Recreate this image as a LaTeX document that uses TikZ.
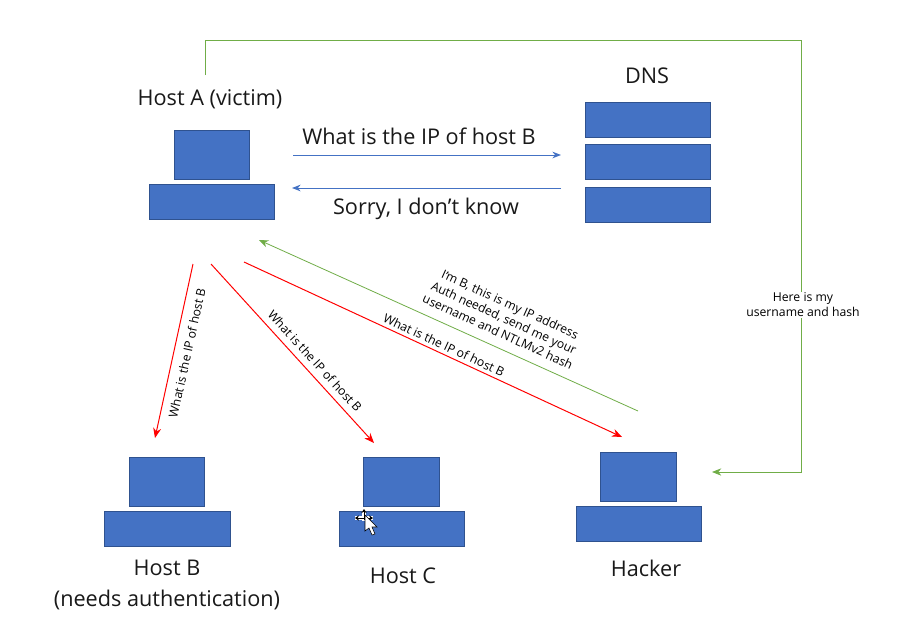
\documentclass[tikz,border=0pt]{standalone}
\usepackage{fontspec}
\setmainfont{Open Sans}
\usetikzlibrary{arrows.meta}
\definecolor{boxblue}{HTML}{4472C4}
\definecolor{boxedge}{HTML}{2F528F}
\definecolor{tipgreen}{HTML}{70AD47}
\tikzset{x=0.0264583cm,y=-0.0264583cm,
 blk/.style={fill=boxblue,draw=boxedge,line width=0.5pt,inner sep=0,anchor=north west},
 big/.style={font=\fontsize{16.3}{19}\selectfont,inner sep=0,align=center,text=black!90},
 small/.style={font=\fontsize{9.2}{11.2}\selectfont,inner sep=0,align=center,text=black},
 bluearrow/.style={draw=boxblue,line width=0.75pt,-{Stealth[length=6.5pt,width=5pt]}},
 redarrow/.style={draw=red,line width=0.75pt,-{Stealth[length=7.5pt,width=6pt]}},
 greenarrow/.style={draw=tipgreen,line width=0.6pt,-{Stealth[length=7pt,width=5.5pt]}}}
\begin{document}
\begin{tikzpicture}
\useasboundingbox (0,0) rectangle (904,642);
\fill[white] (0,0) rectangle (904,642);
% A
\node[blk,minimum width=75*0.0264583cm,minimum height=49*0.0264583cm] (aTop) at (174,130) {};
\node[blk,minimum width=125*0.0264583cm,minimum height=35*0.0264583cm] (aBase) at (149,184) {};
% DNS
\node[blk,minimum width=125*0.0264583cm,minimum height=35*0.0264583cm] (d1) at (585,102) {};
\node[blk,minimum width=125*0.0264583cm,minimum height=35*0.0264583cm] (d2) at (585,144) {};
\node[blk,minimum width=125*0.0264583cm,minimum height=35*0.0264583cm] (d3) at (585,187) {};
% B
\node[blk,minimum width=75*0.0264583cm,minimum height=49*0.0264583cm] (bTop) at (129,457) {};
\node[blk,minimum width=126*0.0264583cm,minimum height=35*0.0264583cm] (bBase) at (104,511) {};
% C
\node[blk,minimum width=76*0.0264583cm,minimum height=49*0.0264583cm] (cTop) at (363,457) {};
\node[blk,minimum width=125*0.0264583cm,minimum height=35*0.0264583cm] (cBase) at (339,511) {};
% Hacker
\node[blk,minimum width=76*0.0264583cm,minimum height=49*0.0264583cm] (hTop) at (600,452) {};
\node[blk,minimum width=125*0.0264583cm,minimum height=35*0.0264583cm] (hBase) at (576,506) {};
% labels
\node[big] (la) at (210,99) {Host A (victim)};
\node[big] (ld) at (647,76) {DNS};
\node[big] (m1) at (419,136) {What is the IP of host B};
\node[big] (m2) at (426,209) {Sorry, I don’t know};
\node[big,font=\fontsize{16.3}{24}\selectfont] (lb) at (167,585) {Host B\\(needs authentication)};
\node[big] (lc) at (403,576) {Host C};
\node[big] (lh) at (646,568) {Hacker};
% free ends
\coordinate (q1s) at (293,155); \coordinate (q1e) at (561,155);
\coordinate (q2s) at (561,188); \coordinate (q2e) at (292,188);
\draw[bluearrow] (q1s) -- (q1e);
\draw[bluearrow] (q2s) -- (q2e);
\coordinate (r1s) at (193,264); \coordinate (r1e) at (155,438);
\coordinate (r2s) at (211,264); \coordinate (r2e) at (374,443);
\coordinate (r3s) at (244,262); \coordinate (r3e) at (622,437);
\draw[redarrow] (r1s) -- (r1e);
\draw[redarrow] (r2s) -- (r2e);
\draw[redarrow] (r3s) -- (r3e);
\coordinate (g1s) at (638,411); \coordinate (g1e) at (259,240);
\draw[greenarrow] (g1s) -- (g1e);
\coordinate (g2s) at (205,75); \coordinate (g2a) at (205,40); \coordinate (g2b) at (801,40); \coordinate (g2c) at (801,472); \coordinate (g2e) at (712,472);
\draw[greenarrow] (g2s) -- (g2a) -- (g2b) -- (g2c) -- (g2e);
\node[small,rotate=77.5] (t1) at (187,353) {What is the IP of host B};
\node[small,rotate=-47.5] (t2) at (315,361) {What is the IP of host B};
\node[small,rotate=-25] (t3) at (444,345) {What is the IP of host B};
\node[small,rotate=-24.5] (t4) at (504,318) {I’m B, this is my IP address\\Auth needed, send me your\\username and NTLMv2 hash};
\node[small,fill=white,inner sep=1pt] (t5) at (803,305) {Here is my\\username and hash};
% cursor
\begin{scope}[shift={(364,518)}]
\draw[white,line width=2.4pt] (-9,0) -- (9,0) (0,-9) -- (0,3);
\draw[black,line width=0.7pt,{Stealth[length=3pt,width=4pt]}-{Stealth[length=3pt,width=4pt]}] (-9,0) -- (9,0);
\draw[black,line width=0.7pt,{Stealth[length=3pt,width=4pt]}-] (0,-9) -- (0,2);
\end{scope}
\filldraw[fill=white,draw=black,line width=0.4pt] (365,515) -- (365,531) -- (369,528) -- (372,535) -- (375,534) -- (372,527) -- (377,527) -- cycle;
\end{tikzpicture}
\end{document}
